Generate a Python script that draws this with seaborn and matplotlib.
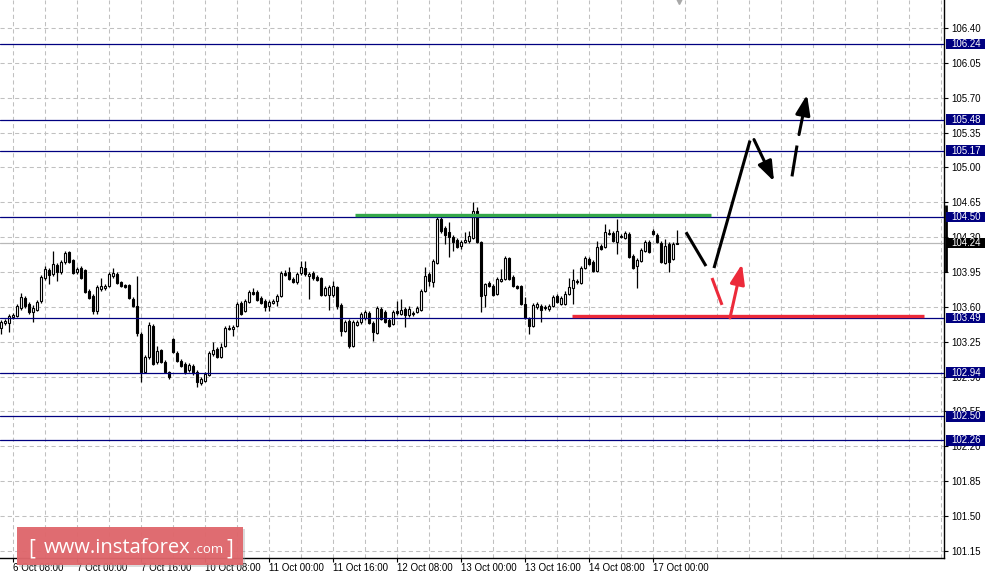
import numpy as np
import pandas as pd
import matplotlib
matplotlib.use("Agg")
import matplotlib.pyplot as plt
import matplotlib.transforms as mtransforms
from matplotlib.patches import Rectangle, FancyBboxPatch
from matplotlib.ticker import FixedLocator
import seaborn as sns

# --- USDJPY H1 candles (bar 0 = 6 Oct 05:00) ---
OPEN = [
    103.39, 103.44, 103.44, 103.50, 103.51, 103.59, 103.69, 103.63, 103.55, 103.57,
    103.66, 103.89, 103.97, 103.93, 104.02, 103.95, 104.05, 104.15, 104.07, 103.95,
    103.99, 103.97, 103.76, 103.71, 103.56, 103.78, 103.79, 103.81, 103.91, 103.93,
    103.85, 103.82, 103.82, 103.68, 103.61, 103.33, 102.95, 103.10, 103.41, 103.05,
    103.17, 103.05, 102.95, 103.28, 103.14, 103.06, 103.03, 102.97, 103.01, 102.95,
    102.84, 102.86, 102.92, 103.13, 103.18, 103.10, 103.21, 103.38, 103.38, 103.41,
    103.64, 103.56, 103.65, 103.75, 103.75, 103.69, 103.66, 103.61, 103.64, 103.66,
    103.71, 103.94, 103.95, 103.88, 103.85, 103.94, 103.99, 103.91, 103.94, 103.90,
    103.89, 103.72, 103.72, 103.72, 103.80, 103.62, 103.36, 103.46, 103.21, 103.42,
    103.45, 103.49, 103.54, 103.44, 103.34, 103.58, 103.55, 103.47, 103.43, 103.56,
    103.53, 103.58, 103.52, 103.54, 103.55, 103.57, 103.76, 103.93, 103.85, 104.04,
    104.48, 104.39, 104.35, 104.30, 104.27, 104.21, 104.25, 104.26, 104.29, 104.56,
    104.25, 103.72, 103.84, 103.81, 103.73, 103.86, 103.88, 104.09, 103.90, 103.81,
    103.81, 103.63, 103.48, 103.41, 103.60, 103.61, 103.60, 103.58, 103.61, 103.71,
    103.63, 103.63, 103.73, 103.79, 103.86, 103.84, 103.99, 104.08, 104.05, 103.96,
    104.21, 104.20, 104.33, 104.34, 104.25, 104.31, 104.29, 104.33, 104.11, 104.01,
    104.06, 104.16, 104.25, 104.36, 104.32, 104.24, 104.04, 104.23, 104.08, 104.23,
]
HIGH = [
    103.47, 103.48, 103.53, 103.54, 103.63, 103.74, 103.71, 103.65, 103.62, 103.67,
    103.92, 104.01, 103.99, 104.16, 104.04, 104.07, 104.16, 104.16, 104.08, 104.00,
    104.01, 103.98, 103.78, 103.73, 103.82, 103.89, 103.83, 103.95, 103.99, 103.95,
    103.86, 103.83, 103.83, 103.70, 103.91, 103.35, 103.12, 103.45, 103.43, 103.21,
    103.18, 103.07, 102.96, 103.29, 103.16, 103.08, 103.05, 103.04, 103.03, 102.97,
    102.90, 102.95, 103.16, 103.25, 103.20, 103.24, 103.41, 103.42, 103.42, 103.65,
    103.66, 103.68, 103.77, 103.79, 103.77, 103.71, 103.68, 103.67, 103.68, 103.73,
    103.96, 103.97, 104.00, 103.90, 103.95, 104.06, 104.06, 103.95, 103.96, 103.92,
    103.90, 103.81, 103.82, 103.86, 103.81, 103.64, 103.47, 103.48, 103.47, 103.47,
    103.55, 103.57, 103.56, 103.46, 103.61, 103.60, 103.57, 103.49, 103.57, 103.66,
    103.68, 103.60, 103.61, 103.56, 103.61, 103.78, 104.00, 103.95, 104.08, 104.50,
    104.50, 104.41, 104.45, 104.32, 104.29, 104.27, 104.35, 104.36, 104.65, 104.60,
    104.26, 103.84, 103.86, 103.83, 103.90, 103.98, 104.11, 104.10, 103.92, 103.82,
    103.82, 103.70, 103.50, 103.64, 103.65, 103.63, 103.62, 103.63, 103.72, 103.73,
    103.71, 103.76, 103.89, 103.98, 103.88, 104.01, 104.11, 104.10, 104.07, 104.26,
    104.23, 104.43, 104.38, 104.36, 104.48, 104.33, 104.36, 104.35, 104.13, 104.09,
    104.19, 104.27, 104.27, 104.38, 104.34, 104.26, 104.28, 104.25, 104.25, 104.37,
]
LOW = [
    103.33, 103.42, 103.35, 103.48, 103.50, 103.57, 103.59, 103.53, 103.45, 103.56,
    103.64, 103.87, 103.83, 103.91, 103.86, 103.93, 104.03, 104.04, 103.93, 103.93,
    103.88, 103.74, 103.68, 103.53, 103.53, 103.76, 103.77, 103.80, 103.89, 103.83,
    103.80, 103.79, 103.68, 103.60, 103.31, 102.85, 102.94, 103.08, 103.02, 103.03,
    103.04, 102.94, 102.88, 103.14, 103.05, 103.00, 102.93, 102.95, 102.92, 102.80,
    102.82, 102.85, 102.91, 103.11, 103.09, 103.09, 103.20, 103.37, 103.31, 103.40,
    103.52, 103.55, 103.64, 103.72, 103.66, 103.63, 103.56, 103.56, 103.63, 103.61,
    103.70, 103.91, 103.87, 103.84, 103.83, 103.92, 103.91, 103.68, 103.87, 103.86,
    103.71, 103.71, 103.57, 103.70, 103.58, 103.31, 103.35, 103.19, 103.20, 103.41,
    103.43, 103.47, 103.43, 103.26, 103.33, 103.47, 103.44, 103.40, 103.42, 103.52,
    103.52, 103.40, 103.50, 103.51, 103.54, 103.56, 103.75, 103.81, 103.80, 104.03,
    104.34, 104.23, 104.10, 104.16, 104.19, 104.18, 104.24, 104.24, 104.28, 104.24,
    103.55, 103.60, 103.80, 103.71, 103.72, 103.85, 103.87, 103.87, 103.80, 103.78,
    103.62, 103.48, 103.33, 103.40, 103.58, 103.45, 103.57, 103.56, 103.60, 103.64,
    103.62, 103.62, 103.72, 103.63, 103.83, 103.83, 103.98, 104.02, 103.95, 103.95,
    104.17, 104.19, 104.32, 104.25, 104.13, 104.29, 104.28, 104.09, 103.98, 103.79,
    104.05, 104.15, 104.14, 104.32, 104.24, 104.04, 104.03, 103.95, 104.07, 104.23,
]
CLOSE = [
    103.45, 103.46, 103.51, 103.52, 103.61, 103.70, 103.61, 103.55, 103.59, 103.65,
    103.90, 103.98, 103.92, 104.03, 103.95, 104.05, 104.14, 104.05, 103.94, 103.98,
    103.89, 103.75, 103.69, 103.56, 103.80, 103.81, 103.81, 103.93, 103.94, 103.84,
    103.81, 103.80, 103.69, 103.61, 103.34, 102.95, 103.10, 103.42, 103.03, 103.16,
    103.05, 102.95, 102.90, 103.15, 103.06, 103.01, 102.95, 103.02, 102.94, 102.85,
    102.88, 102.93, 103.14, 103.17, 103.10, 103.20, 103.39, 103.39, 103.40, 103.63,
    103.53, 103.66, 103.75, 103.73, 103.67, 103.64, 103.60, 103.65, 103.66, 103.71,
    103.94, 103.92, 103.88, 103.85, 103.93, 104.00, 103.93, 103.93, 103.89, 103.87,
    103.72, 103.79, 103.80, 103.81, 103.61, 103.36, 103.45, 103.21, 103.45, 103.45,
    103.53, 103.55, 103.44, 103.35, 103.59, 103.48, 103.45, 103.41, 103.55, 103.54,
    103.57, 103.52, 103.58, 103.53, 103.59, 103.76, 103.91, 103.86, 104.06, 104.48,
    104.36, 104.32, 104.30, 104.25, 104.20, 104.25, 104.27, 104.31, 104.56, 104.25,
    103.71, 103.83, 103.81, 103.72, 103.88, 103.88, 104.09, 103.88, 103.81, 103.79,
    103.63, 103.49, 103.41, 103.62, 103.63, 103.57, 103.59, 103.61, 103.70, 103.65,
    103.69, 103.73, 103.80, 103.87, 103.85, 103.99, 104.09, 104.03, 103.96, 104.20,
    104.18, 104.35, 104.34, 104.26, 104.36, 104.30, 104.34, 104.10, 103.99, 104.07,
    104.17, 104.25, 104.15, 104.33, 104.25, 104.05, 104.21, 104.05, 104.23, 104.24,
]

TIME_LABELS = ["6 Oct 08:00", "7 Oct 00:00", "7 Oct 16:00", "10 Oct 08:00",
               "11 Oct 00:00", "11 Oct 16:00", "12 Oct 08:00", "13 Oct 00:00",
               "13 Oct 16:00", "14 Oct 08:00", "17 Oct 00:00"]
PRICE_TICKS = [101.15, 101.50, 101.85, 102.20, 102.55, 102.90, 103.25, 103.60,
               103.95, 104.30, 104.65, 105.00, 105.35, 105.70, 106.05, 106.40]
LEVELS = [106.24, 105.48, 105.17, 104.50, 103.49, 102.94, 102.50, 102.26]
BID = 104.24

# resistance / support marks (bar from, bar to, price)
GREEN_LINE = (88.5, 177.5, 104.52)
RED_LINE = (142.75, 230.75, 103.51)

# projected path (bar, price) pairs
BLACK_SEGS = [((171.25, 104.35), (176.25, 104.01)),
              ((178.25, 103.99), (187.25, 105.27)),
              ((197.75, 104.91), (199.0, 105.22))]
BLACK_ARROWS = [((188.25, 105.28), (193.25, 104.86)),
                ((199.5, 105.33), (201.5, 105.73))]
RED_SEGS = [((177.75, 103.89), (180.25, 103.62))]
RED_ARROWS = [((182.25, 103.49), (185.25, 104.03))]

NAVY = "#000080"
GRID = "#c0c0c0"

sns.set_theme(style="white")
plt.rcParams["font.family"] = ["Liberation Sans", "DejaVu Sans"]

W, H = 986, 578
fig = plt.figure(figsize=(W / 100, H / 100), dpi=100)
ax = fig.add_axes([0, 20 / H, 944 / W, 558 / H])

df = pd.DataFrame({"open": OPEN, "high": HIGH, "low": LOW, "close": CLOSE})
df["bar"] = np.arange(len(df))
df["up"] = df["close"] >= df["open"]
body_lo = df[["open", "close"]].min(axis=1)
body_h = (df["close"] - df["open"]).abs().clip(lower=0.012)

# candles
ax.vlines(df["bar"], df["low"], df["high"], color="black", lw=0.9, zorder=3)
ax.bar(df["bar"], body_h, bottom=body_lo, width=0.5,
       color=np.where(df["up"], "white", "black"), edgecolor="black",
       linewidth=0.8, zorder=4)

# horizontal levels + bid line
for lv in LEVELS:
    ax.axhline(lv, color=NAVY, lw=0.9, zorder=5)
ax.axhline(BID, color="#b8b8b8", lw=0.9, zorder=2)

# green resistance & red support
ax.plot(GREEN_LINE[:2], [GREEN_LINE[2]] * 2, color="#35a84a", lw=2.4,
        solid_capstyle="butt", zorder=6)
ax.plot(RED_LINE[:2], [RED_LINE[2]] * 2, color="#ec2a3a", lw=2.4,
        solid_capstyle="butt", zorder=6)

# projection arrows
def seg(p, q, col):
    ax.plot([p[0], q[0]], [p[1], q[1]], color=col, lw=2.2,
            solid_capstyle="butt", zorder=7)

def arrow(p, q, col):
    ax.annotate("", xy=q, xytext=p, zorder=7,
                arrowprops=dict(arrowstyle="-|>,head_length=0.6,head_width=0.22",
                                color=col, lw=2.2, mutation_scale=20,
                                shrinkA=0, shrinkB=0))

for p, q in BLACK_SEGS:
    seg(p, q, "black")
for p, q in BLACK_ARROWS:
    arrow(p, q, "black")
for p, q in RED_SEGS:
    seg(p, q, "#ec2a3a")
for p, q in RED_ARROWS:
    arrow(p, q, "#ec2a3a")

# axes, ticks and grid
ax.set_xlim(-0.25, 235.75)
ax.set_ylim(101.079, 106.681)
label_bars = [3 + 16 * i for i in range(len(TIME_LABELS))]
ax.set_xticks(label_bars)
ax.set_xticklabels(TIME_LABELS, ha="left")
ax.xaxis.set_minor_locator(FixedLocator(np.arange(3, 236, 8)))
ax.set_yticks(PRICE_TICKS)
ax.set_yticklabels([f"{t:.2f}" for t in PRICE_TICKS])
ax.yaxis.tick_right()
ax.tick_params(axis="y", which="major", right=True, left=False, length=3,
               width=0.8, pad=2, labelsize=7, colors="black")
ax.tick_params(axis="x", which="major", bottom=True, length=3, width=0.8,
               pad=0.8, labelsize=7, colors="black")
ax.tick_params(axis="x", which="minor", bottom=False, length=0)
ax.grid(True, axis="x", which="both", color=GRID, lw=0.75, ls=(0, (4, 3)))
ax.grid(True, axis="y", which="major", color=GRID, lw=0.75, ls=(0, (4, 3)))
ax.set_axisbelow(True)
for s in ["top", "left"]:
    ax.spines[s].set_visible(False)
for s in ["right", "bottom"]:
    ax.spines[s].set_color("black")
    ax.spines[s].set_linewidth(1)

# price tags on the right axis
tr = mtransforms.blended_transform_factory(ax.transAxes, ax.transData)
x0 = 946 / 944
bw = 39 / 944
for lv, fc in [(v, NAVY) for v in LEVELS] + [(BID, "black")]:
    ax.add_patch(Rectangle((x0, lv - 0.052), bw, 0.104, transform=tr,
                           fc=fc, ec="none", clip_on=False, zorder=20))
    ax.text(951 / 944, lv, f"{lv:.2f}", transform=tr, color="white",
            fontsize=7, va="center", ha="left", clip_on=False, zorder=21)
ax.plot([945.5 / 944] * 2, [103.95, 104.62], transform=tr, color="black",
        lw=2, clip_on=False, zorder=19, solid_capstyle="butt")

# chart shift marker
ax.plot([169.5], [106.67], marker="v", ms=4, color="#a8a8a8", clip_on=False, zorder=8)

# watermark
def fx(x):
    return x / W

def fy(y):
    return 1 - y / H

fig.patches.append(Rectangle((fx(19), fy(567)), 226 / W, 38 / H, transform=fig.transFigure,
                             fc="#9a9a9a", ec="none", alpha=0.35, zorder=30))
fig.patches.append(Rectangle((fx(17), fy(565)), 226 / W, 38 / H, transform=fig.transFigure,
                             fc="#e0666b", ec="none", alpha=0.95, zorder=31))
wm = dict(color="white", family=["Open Sans", "DejaVu Sans"], va="baseline",
          ha="left", zorder=32)
fig.text(fx(28), fy(555), "[", fontsize=15, **wm)
fig.text(fx(44), fy(553), "www.instaforex", fontsize=14.5, **wm)
fig.text(fx(193), fy(553), ".com", fontsize=9.5, **wm)
fig.text(fx(226), fy(555), "]", fontsize=15, **wm)

fig.savefig("out.png", dpi=100, facecolor="white")
